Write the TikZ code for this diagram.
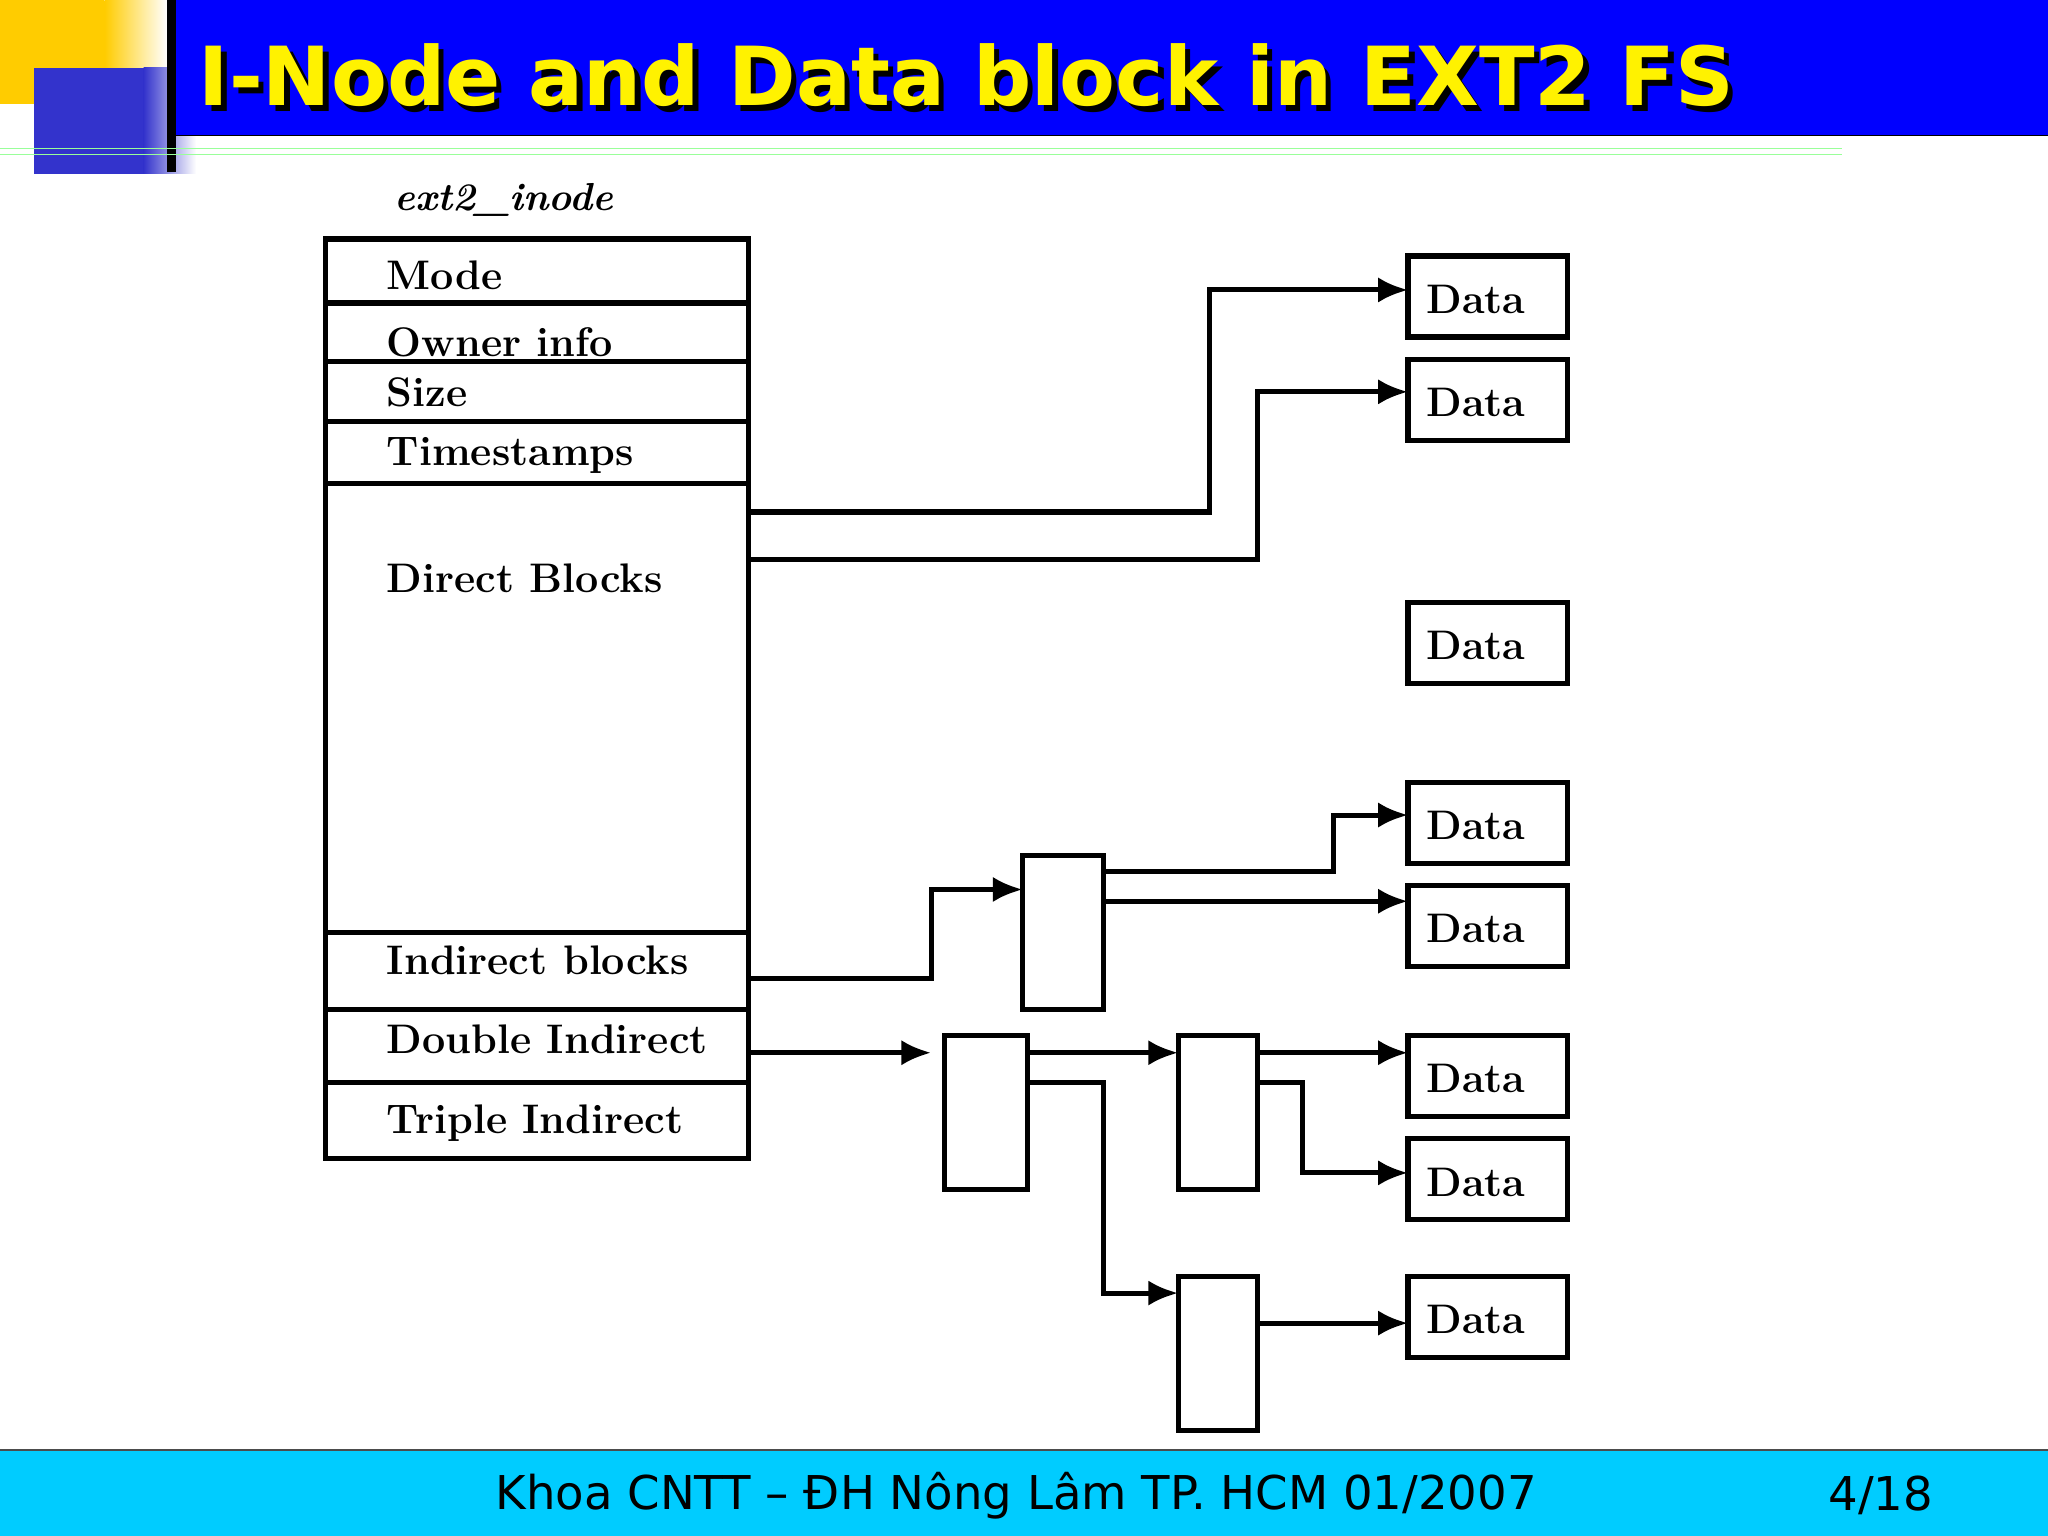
\documentclass[tikz,border=0pt]{standalone}
\usepackage{fontspec}
\newfontfamily\tahoma{DejaVu Sans}
\newfontfamily\verd{DejaVu Sans}
\usetikzlibrary{arrows.meta,fadings}
\definecolor{footc}{HTML}{00CCFF}
\definecolor{sqb}{HTML}{3333CC}
\definecolor{sqy}{HTML}{FFCC00}
\begin{document}
\begin{tikzpicture}[x=0.02cm,y=-0.02cm,
  ln/.style={line width=2.2pt},
  arr/.style={ln,-{Latex[length=13pt,width=11pt]}},
  lbl/.style={anchor=west,font=\fontsize{18}{20}\selectfont\bfseries}]
\useasboundingbox (0,0) rectangle (1568,1176);
% header decoration
\fill[sqy] (0,0) rectangle (80,80);
\shade[left color=sqy,right color=white] (80,0) rectangle (128,80);
\fill[sqb] (26,52) rectangle (110,133);
\shade[left color=sqb,right color=white] (110,52) rectangle (150,133);
\fill[black] (128,0) rectangle (135,132);
\fill[blue] (135,0) rectangle (1568,104);
\draw[black] (135,104) -- (1568,104);
\draw[green!40,line width=0.5pt] (0,114) -- (1410,114) (0,118) -- (1410,118);
\node[anchor=base west,text=black,font=\verd\fontsize{35.5}{40}\selectfont\bfseries] (tsh) at (150,85) {I-Node and Data block in EXT2 FS};
\node[anchor=base west,text=yellow,font=\verd\fontsize{35.5}{40}\selectfont\bfseries] (title) at (146,81) {I-Node and Data block in EXT2 FS};
% footer
\fill[footc] (0,1110) rectangle (1568,1176);
\draw[black!70,line width=1pt] (0,1110) -- (1568,1110);
\node[font=\tahoma\fontsize{20.3}{24}\selectfont] (foot) at (778,1145) {Khoa CNTT – ĐH Nông Lâm TP. HCM 01/2007};
\node[font=\tahoma\fontsize{20.3}{24}\selectfont] (page) at (1440,1145) {4/18};
% inode
\node[anchor=west,font=\fontsize{17}{20}\selectfont\bfseries\itshape] (iname) at (296,153) {ext2\_inode};
\draw[ln] (249,183) rectangle (573,887);
\foreach \yy in {232,277,323,370,714,773,829} \draw[ln] (249,\yy) -- (573,\yy);
\node[lbl] (mode) at (290,211) {Mode};
\node[lbl] (own) at (290,262) {Owner info};
\node[lbl] (size) at (290,300) {Size};
\node[lbl] (ts) at (290,349) {Timestamps};
\node[lbl] (dir) at (290,443) {Direct Blocks};
\node[lbl] (ind) at (290,735) {Indirect blocks};
\node[lbl] (dbl) at (290,796) {Double Indirect};
\node[lbl] (tri) at (290,860) {Triple Indirect};
\coordinate (dA) at (573,392);
\coordinate (dB) at (573,428);
\coordinate (iA) at (573,749);
\coordinate (dI) at (573,806);
\coordinate (dEnd) at (713,806);
% data boxes
\foreach \n/\yy in {d1/196,d2/275,d3/461,d4/599,d5/678,d6/793,d7/872,d8/977}{
  \draw[ln] (1078,\yy) rectangle (1200,\yy+62);
  \node[anchor=west,font=\fontsize{18}{20}\selectfont\bfseries] (\n t) at (1086,\yy+33) {Data};
}
% index blocks
\draw[ln] (783,655) rectangle (845,773);
\draw[ln] (723,793) rectangle (787,911);
\draw[ln] (902,793) rectangle (963,911);
\draw[ln] (902,977) rectangle (963,1095);
\coordinate (IBin) at (783,681);
\coordinate (D2in) at (902,806);
\coordinate (D3in) at (902,990);
% connectors
\draw[arr] (dA) -| (926,222) -- (1078,222);
\draw[arr] (dB) -| (963,300) -- (1078,300);
\draw[arr] (iA) -| (713,681) -- (IBin);
\draw[arr] (845,667) -| (1021,624) -- (1078,624);
\draw[arr] (845,690) -- (1078,690);
\draw[arr] (dI) -- (dEnd);
\draw[arr] (787,806) -- (D2in);
\draw[arr] (963,806) -- (1078,806);
\draw[arr] (963,829) -| (997,898) -- (1078,898);
\draw[arr] (787,829) -| (845,990) -- (D3in);
\draw[arr] (963,1013) -- (1078,1013);
\end{tikzpicture}
\end{document}
